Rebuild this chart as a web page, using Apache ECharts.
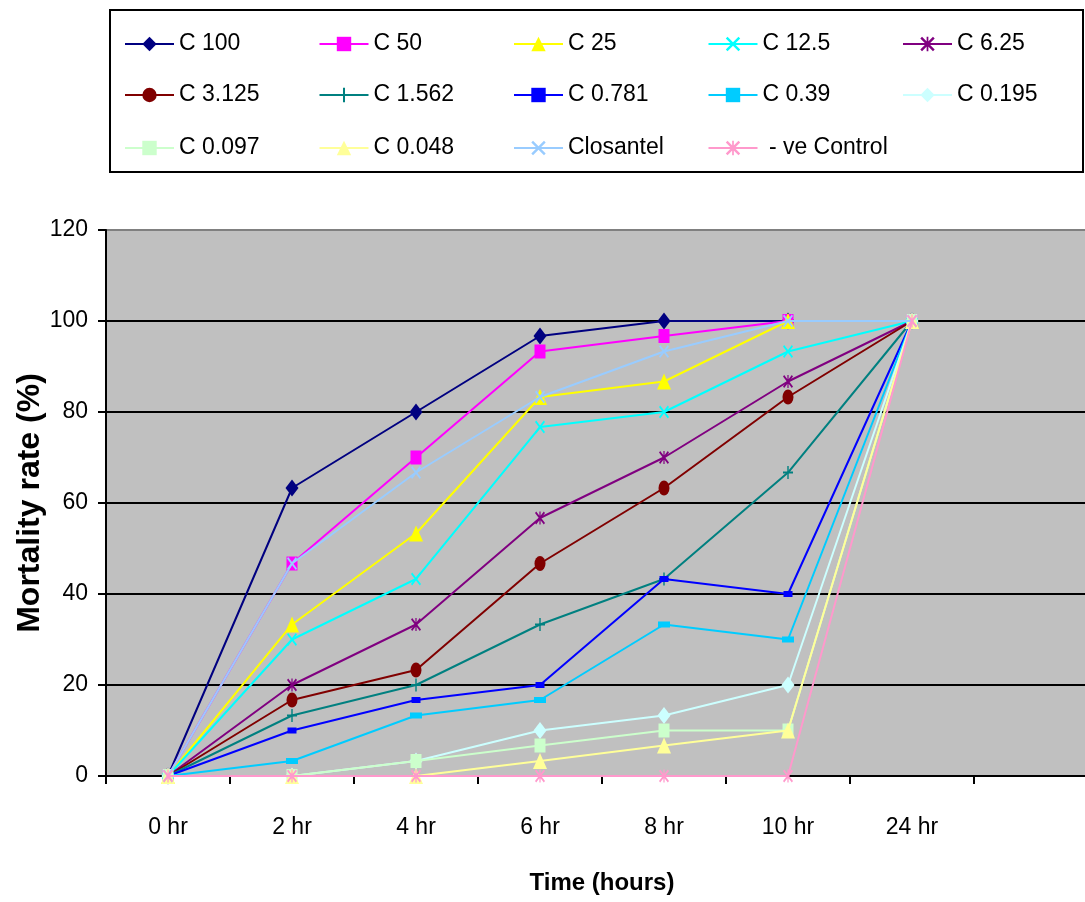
<!DOCTYPE html>
<html>
<head>
<meta charset="utf-8">
<script src="https://cdn.jsdelivr.net/npm/echarts@6/dist/echarts.min.js"></script>
<style>html,body{margin:0;padding:0;background:#fff}#c{width:1085px;height:902px}</style>
</head>
<body>
<div id="c"></div>
<script>
// ---- data ----
var categories = ['0 hr', '2 hr', '4 hr', '6 hr', '8 hr', '10 hr', '24 hr', ''];
var yTicks = [0, 20, 40, 60, 80, 100, 120];
var seriesNames = ['C 100', 'C 50', 'C 25', 'C 12.5', 'C 6.25', 'C 3.125', 'C 1.562', 'C 0.781', 'C 0.39', 'C 0.195', 'C 0.097', 'C 0.048', 'Closantel', ' - ve Control'];
var c100 = [0, 63.3, 80, 96.7, 100, 100, 100];
var c50 = [0, 46.7, 70, 93.3, 96.7, 100, 100];
var c25 = [0, 33.3, 53.3, 83.3, 86.7, 100, 100];
var c12_5 = [0, 30, 43.3, 76.7, 80, 93.3, 100];
var c6_25 = [0, 20, 33.3, 56.7, 70, 86.7, 100];
var c3_125 = [0, 16.7, 23.3, 46.7, 63.3, 83.3, 100];
var c1_562 = [0, 13.3, 20, 33.3, 43.3, 66.7, 100];
var c0_781 = [0, 10, 16.7, 20, 43.3, 40, 100];
var c0_39 = [0, 3.3, 13.3, 16.7, 33.3, 30, 100];
var c0_195 = [0, 0, 3.3, 10, 13.3, 20, 100];
var c0_097 = [0, 0, 3.3, 6.7, 10, 10, 100];
var c0_048 = [0, 0, 0, 3.3, 6.7, 10, 100];
var closantel = [0, 46.7, 66.7, 83.3, 93.3, 100, 100];
var control = [0, 0, 0, 0, 0, 0, 100];
var allData = [c100, c50, c25, c12_5, c6_25, c3_125, c1_562, c0_781, c0_39, c0_195, c0_097, c0_048, closantel, control];

// ---- styles ----
var X_PATH = 'path://M0,1.2L1.2,0L5,3.8L8.8,0L10,1.2L6.2,5L10,8.8L8.8,10L5,6.2L1.2,10L0,8.8L3.8,5Z';
var STAR_PATH = 'path://M0,1.2L1.2,0L5,3.8L8.8,0L10,1.2L6.2,5L10,8.8L8.8,10L5,6.2L1.2,10L0,8.8L3.8,5Z M4.4,0L5.6,0L5.6,10L4.4,10Z';
var PLUS_PATH = 'path://M4.3,0L5.7,0L5.7,4.3L10,4.3L10,5.7L5.7,5.7L5.7,10L4.3,10L4.3,5.7L0,5.7L0,4.3L4.3,4.3Z';
var colors = ['#000080', '#FF00FF', '#FFFF00', '#00FFFF', '#800080', '#800000', '#008080', '#0000FF', '#00CCFF', '#CCFFFF', '#CCFFCC', '#FFFF99', '#99CCFF', '#FF99CC'];
var symbols = ['diamond', 'rect', 'triangle', X_PATH, STAR_PATH, 'circle', PLUS_PATH, 'rect', 'rect', 'diamond', 'rect', 'triangle', X_PATH, STAR_PATH];
var symbolSizes = [[13, 17], [11, 14], [14, 16], [10, 13], [10, 13], [11, 15], [10, 13], [9, 6], [12, 6], [13, 17], [11, 14], [14, 16], [10, 13], [10, 13]];

var FONT = "'Liberation Sans', Arial, sans-serif";

var series = seriesNames.map(function (n, i) {
  return {
    name: n, type: 'line', data: allData[i],
    symbol: symbols[i], symbolSize: symbolSizes[i],
    itemStyle: { color: colors[i] },
    lineStyle: { color: colors[i], width: 2 },
    emphasis: { disabled: true },
    z: 2 + i
  };
});

function legendRow(names, top) {
  return {
    data: names, left: 119, top: top, width: 1000, orient: 'horizontal',
    itemWidth: 49, itemHeight: 18, itemGap: 0, itemTextGap: 7,
    selectedMode: false,
    lineStyle: { width: 2 },
    textStyle: { fontFamily: FONT, fontSize: 23, color: '#000', width: 139.5, lineHeight: 28 }
  };
}

var chart = echarts.init(document.getElementById('c'), null, { renderer: 'canvas' });
chart.setOption({
  animation: false,
  backgroundColor: '#fff',
  graphic: [{
    type: 'rect', shape: { x: 110, y: 10, width: 973, height: 162 },
    style: { fill: 'none', stroke: '#000', lineWidth: 2 }, z: 100
  }],
  legend: [
    legendRow(seriesNames.slice(0, 5), 25),
    legendRow(seriesNames.slice(5, 10), 76),
    legendRow(seriesNames.slice(10, 14), 129)
  ],
  grid: {
    left: 106, top: 230, right: -13, bottom: 126,
    outerBoundsMode: 'none', containLabel: false,
    show: true, backgroundColor: '#C0C0C0', borderWidth: 0
  },
  xAxis: {
    type: 'category', data: categories, boundaryGap: true,
    name: 'Time (hours)', nameLocation: 'middle', nameGap: 95, nameMoveOverlap: false,
    nameTextStyle: { fontFamily: FONT, fontSize: 24, fontWeight: 'bold', color: '#000' },
    axisLine: { show: true, onZero: false, lineStyle: { color: '#000', width: 2 } },
    axisTick: { show: true, interval: 0, length: 8, alignWithLabel: false, lineStyle: { color: '#000', width: 2 } },
    axisLabel: { interval: 0, margin: 40, fontFamily: FONT, fontSize: 23, color: '#000' },
    splitLine: { show: false }
  },
  yAxis: {
    type: 'value', min: yTicks[0], max: yTicks[yTicks.length - 1], interval: 20,
    name: 'Mortality rate (%)', nameLocation: 'middle', nameGap: 60, nameMoveOverlap: false,
    nameTextStyle: { fontFamily: FONT, fontSize: 32, fontWeight: 'bold', color: '#000' },
    axisLine: { show: true, lineStyle: { color: '#000', width: 2 } },
    axisTick: { show: true, length: 8, lineStyle: { color: '#000', width: 2 } },
    axisLabel: { margin: 18, fontFamily: FONT, fontSize: 23, color: '#000' },
    splitLine: { show: true, lineStyle: { color: ['#000', '#000', '#000', '#000', '#000', '#000', '#808080'], width: 2 } }
  },
  series: series
});
</script>
</body>
</html>
